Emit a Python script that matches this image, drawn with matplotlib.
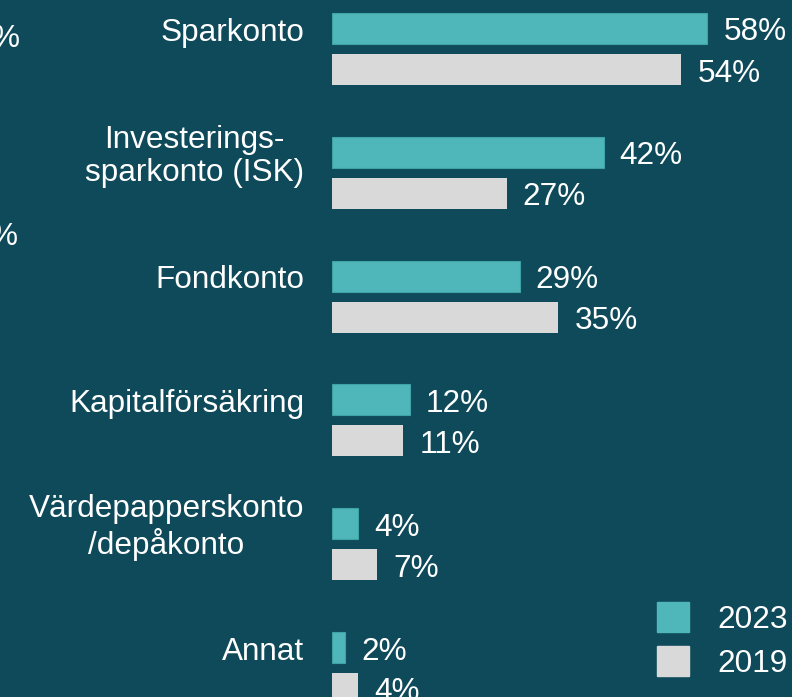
import matplotlib.pyplot as plt
from matplotlib.patches import Patch
from matplotlib.transforms import offset_copy

plt.rcParams["font.family"] = ["Liberation Sans", "DejaVu Sans"]

# ---------- data ----------
categories = [
    "Sparkonto",
    "Investerings-\nsparkonto (ISK)",
    "Fondkonto",
    "Kapitalförsäkring",
    "Värdepapperskonto\n/depåkonto",
    "Annat",
]
values_2023 = [58, 42, 29, 12, 4, 2]
values_2019 = [54, 27, 35, 11, 7, 4]
series_labels = ["2023", "2019"]

BG = "#0F4A5A"
TEAL = "#4FB6B9"
GREY = "#D9D9D9"
FS = 22.7

W, H = 792, 697
fig = plt.figure(figsize=(W / 100, H / 100), dpi=100, facecolor=BG)

# axes starts where the bars start; 1 % = 6.47 px
px_per_pct = 6.47
left = 332
ax = fig.add_axes([left / W, 0, 1 - left / W, 1])
ax.set_facecolor(BG)
ax.set_xlim(0, (W - left) / px_per_pct)

pitch = 123.8
top_center = 49
ax.set_ylim((H - top_center) / pitch, -top_center / pitch)

bar_h = 31 / pitch
off = 20.5 / pitch
ys = list(range(len(categories)))

ax.barh([y - off for y in ys], values_2023, height=bar_h, color=TEAL,
        edgecolor="#3FA3A6", linewidth=0.8, label=series_labels[0])
ax.barh([y + off for y in ys], values_2019, height=bar_h, color=GREY,
        label=series_labels[1])

# text sits a few px lower than the bar centre in the original
lab_tr = offset_copy(ax.transData, fig=fig, x=16, y=-4, units="dots")
for y, v in zip(ys, values_2023):
    ax.text(v, y - off, f"{v}%", transform=lab_tr, ha="left", va="center",
            color="white", fontsize=FS, clip_on=False)
for y, v in zip(ys, values_2019):
    ax.text(v, y + off, f"{v}%", transform=lab_tr, ha="left", va="center",
            color="white", fontsize=FS, clip_on=False)

cat_tr = offset_copy(ax.transData, fig=fig, x=-28, y=-4, units="dots")
for y, c in zip(ys, categories):
    ax.text(0, y - off, c, transform=cat_tr, ha="right", va="center",
            multialignment="center", color="white", fontsize=FS,
            linespacing=1.15, clip_on=False)

for s in ax.spines.values():
    s.set_visible(False)
ax.set_xticks([])
ax.set_yticks([])

# fragments of the neighbouring chart cut off at the left edge
fig.text(-8 / W, 1 - 39 / H, "%", color="white", fontsize=FS, va="center")
fig.text(-10 / W, 1 - 237 / H, "%", color="white", fontsize=FS, va="center")

handles = [Patch(facecolor=TEAL, edgecolor=TEAL), Patch(facecolor=GREY, edgecolor=GREY)]
fig.legend(handles, series_labels, loc="upper left",
           bbox_to_anchor=(651 / W, 1 - 596 / H), frameon=False,
           fontsize=FS, labelcolor="white", handlelength=1.0,
           handleheight=1.07, handletextpad=0.9, labelspacing=0.36,
           borderaxespad=0, borderpad=0.2)

fig.savefig("out.png", dpi=100, facecolor=BG)
